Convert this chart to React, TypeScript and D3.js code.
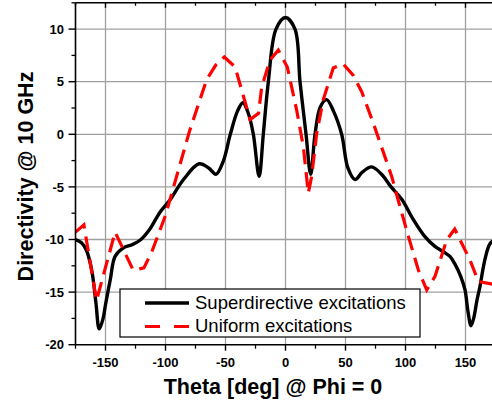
import React from "react";
import * as d3 from "d3";

const superTheta = [-175, -170, -166, -161.5, -158, -155.2, -152, -150, -146, -142, -135, -128, -121, -113, -104.6, -96, -85, -72, -64, -58, -52, -46, -40, -35.5, -31, -26.8, -22, -18.5, -14.3, -7.9, 0, 7.9, 12.1, 17.1, 21, 24.6, 29, 34.3, 40, 46.8, 52, 57.9, 64, 71.8, 80, 88, 97, 106.5, 116, 124, 131.5, 137, 141, 146, 149.6, 152, 154.6, 157, 159.5, 162, 166, 170.4, 175];
const superVals = [-10.0, -10.3, -11.0, -12.9, -16.0, -18.5, -17.5, -16.2, -13.8, -11.6, -10.8, -10.5, -10.05, -9.0, -7.4, -6.2, -4.3, -2.8, -3.2, -3.8, -2.6, 0.0, 2.2, 3.0, 2.0, 0.0, -4.0, 0.0, 5.0, 10.0, 11.1, 10.0, 5.0, 0.0, -3.8, 0.0, 2.6, 3.3, 2.2, 0.0, -3.2, -4.3, -3.6, -3.1, -3.8, -5.0, -6.2, -8.1, -9.7, -10.6, -11.16, -11.6, -12.3, -13.5, -14.8, -16.8, -18.2, -17.4, -15.8, -14.5, -12.0, -10.4, -10.0];

const uniformTheta = [-175, -168, -157.5, -142, -127, -118, -111.5, -100, -80, -65.7, -58, -51, -42, -29.5, -22.5, -19.8, -12.9, -6, 1.5, 9.3, 14.9, 19, 21.8, 26, 31.5, 39.8, 48, 56.5, 63.5, 73.2, 80, 88.5, 93.5, 102.4, 110.7, 117.7, 124.6, 134.3, 141, 153.75, 157, 160.7, 170.4, 175];
const uniformVals = [-9.3, -8.6, -15.8, -9.3, -12.9, -12.7, -11.2, -7.7, 0.3, 5.2, 6.6, 7.35, 6.4, 1.4, 2.0, 4.5, 7.06, 8.0, 6.4, 2.3, -1.2, -5.6, -4.0, 0.1, 3.3, 6.3, 6.7, 5.6, 4.05, 1.05, -1.2, -4.0, -6.1, -9.7, -12.9, -14.8, -13.5, -10.05, -9.0, -11.95, -12.9, -14.0, -14.2, -14.3];

const xTicks = [-150, -100, -50, 0, 50, 100, 150];
const xMinor = [-175, -125, -75, -25, 25, 75, 125, 175];
const yTicks = [-20, -15, -10, -5, 0, 5, 10];
const yMinor = [-17.5, -12.5, -7.5, -2.5, 2.5, 7.5, 12.5];
const seriesNames = ["Superdirective excitations", "Uniform excitations"];

const W = 492, H = 404;
const L = 75.5, R = 495.5, T = 2.8, B = 344.7;

export default function App() {
  const x = d3.scaleLinear().domain([-175, 175]).range([L, R]);
  const y = d3.scaleLinear().domain([-20, 12.5]).range([B, T]);
  const superPts: [number, number][] = superTheta.map((t, i) => [t, superVals[i]]);
  const uniPts: [number, number][] = uniformTheta.map((t, i) => [t, uniformVals[i]]);
  const smooth = d3.line<[number, number]>().x(d => x(d[0])).y(d => y(d[1])).curve(d3.curveCatmullRom.alpha(0.5));
  const straight = d3.line<[number, number]>().x(d => x(d[0])).y(d => y(d[1])).curve(d3.curveLinear);
  const font = "'Liberation Sans', Arial, sans-serif";
  const grid = "#a0a0a0";
  return (
    <svg width={W} height={H} style={{ position: "absolute", left: 0, top: 0, background: "#fff" }} fontFamily={font}>
      <defs>
        <clipPath id="plot"><rect x={L} y={T} width={R - L} height={B - T} /></clipPath>
      </defs>
      <rect x={0} y={0} width={W} height={H} fill="#fff" />
      {xTicks.map(t => (
        <line key={"gx" + t} x1={x(t)} x2={x(t)} y1={T} y2={B} stroke={grid} strokeWidth={1.3} />
      ))}
      {yTicks.filter(t => t > -20).map(t => (
        <line key={"gy" + t} x1={L} x2={W} y1={y(t)} y2={y(t)} stroke={grid} strokeWidth={1.3} />
      ))}
      <g clipPath="url(#plot)">
        <path d={smooth(superPts) || ""} fill="none" stroke="#000" strokeWidth={3.4} strokeLinejoin="round" />
        <path d={straight(uniPts) || ""} fill="none" stroke="#ff0000" strokeWidth={3.2} strokeDasharray="15 8" />
      </g>
      {/* axes */}
      <line x1={L} x2={L} y1={T} y2={B} stroke="#000" strokeWidth={1.6} />
      <line x1={L} x2={W} y1={B} y2={B} stroke="#000" strokeWidth={1.6} />
      <line x1={L} x2={W} y1={T} y2={T} stroke="#000" strokeWidth={1.6} />
      {xTicks.map(t => (
        <g key={"xt" + t}>
          <line x1={x(t)} x2={x(t)} y1={B} y2={B + 6} stroke="#000" strokeWidth={1.4} />
          <line x1={x(t)} x2={x(t)} y1={T} y2={T + 5} stroke="#000" strokeWidth={1.4} />
          <text x={x(t)} y={366.7} textAnchor="middle" fontSize={13} fontWeight="bold">{t}</text>
        </g>
      ))}
      {xMinor.map(t => (
        <g key={"xm" + t}>
          <line x1={x(t)} x2={x(t)} y1={B} y2={B + 4} stroke="#000" strokeWidth={1.3} />
          <line x1={x(t)} x2={x(t)} y1={T} y2={T + 3} stroke="#000" strokeWidth={1.3} />
        </g>
      ))}
      {yTicks.map(t => (
        <g key={"yt" + t}>
          <line x1={L - 7} x2={L} y1={y(t)} y2={y(t)} stroke="#000" strokeWidth={1.4} />
          <text x={64} y={y(t) + 4.6} textAnchor="end" fontSize={13} fontWeight="bold">{t}</text>
        </g>
      ))}
      {yMinor.map(t => (
        <line key={"ym" + t} x1={L - 4} x2={L} y1={y(t)} y2={y(t)} stroke="#000" strokeWidth={1.3} />
      ))}
      <text x={273} y={394} textAnchor="middle" fontSize={21.5} fontWeight="bold">Theta [deg] @ Phi = 0</text>
      <text transform="translate(33.3,176.5) rotate(-90)" textAnchor="middle" fontSize={21.5} fontWeight="bold">Directivity @ 10 GHz</text>
      {/* legend */}
      <rect x={120} y={289} width={300} height={48} fill="#fff" stroke="#000" strokeWidth={1.2} />
      <line x1={145} x2={189} y1={303} y2={303} stroke="#000" strokeWidth={3.4} />
      <line x1={145} x2={189} y1={326.5} y2={326.5} stroke="#ff0000" strokeWidth={3.2} strokeDasharray="15 14" />
      <text x={195} y={308.5} fontSize={18.5}>{seriesNames[0]}</text>
      <text x={195} y={331.8} fontSize={18.5}>{seriesNames[1]}</text>
    </svg>
  );
}
